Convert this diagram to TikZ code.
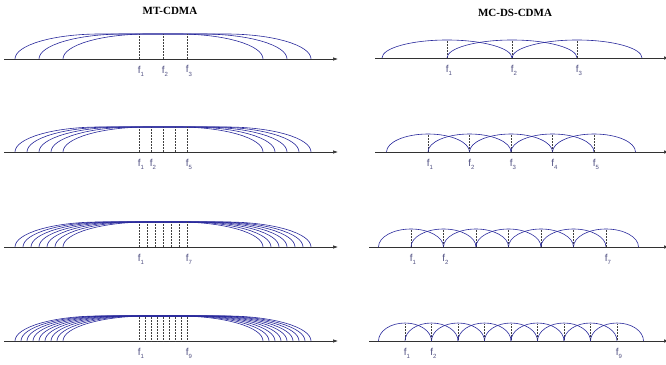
\documentclass[tikz,border=0pt]{standalone}
\usepackage{fontspec}
\setmainfont{Liberation Serif}
\setsansfont{Liberation Sans}
\usetikzlibrary{arrows.meta}
\definecolor{carrierblue}{RGB}{40, 40, 155}
\definecolor{labelgray}{RGB}{80, 80, 130}
\definecolor{axisgray}{RGB}{50, 50, 50}
\newcommand{\freq}[1]{f\raisebox{-0.6ex}{\fontsize{6}{7}\selectfont #1}}

\begin{document}
\begin{tikzpicture}[x=1pt, y=1pt,
    carrier/.style={carrierblue, line width=0.6pt},
    tickline/.style={black!75, densely dotted, line width=0.5pt},
    axisline/.style={axisgray, line width=0.6pt, -{Latex[length=5pt,width=3.5pt]}},
    flabel/.style={text=labelgray, font=\sffamily\fontsize{10}{11}\selectfont, inner sep=0pt},
    title/.style={font=\bfseries\fontsize{11}{12}\selectfont}]
  \useasboundingbox (0,0) rectangle (666,364);
  \node[title] (mttitle) at (170,353) {MT-CDMA};
  \node[title] (mctitle) at (515,351) {MC-DS-CDMA};
  % MT-CDMA: overlapping wide spectra (flat-topped)
  \foreach \n/\yy/\labs in {3/305/{1,2,3}, 5/212/{1,2,5}, 7/117/{1,7}, 9/23/{1,9}} {
    \pgfmathsetmacro{\dd}{48/(\n-1)}
    \draw[axisline] (4,\yy) -- (338,\yy);
    \foreach \k in {1,...,\n} {
      \pgfmathsetmacro{\cc}{139+(\k-1)*\dd}
      \draw[carrier] (\cc-124,\yy) arc[start angle=180, end angle=90, x radius=85, y radius=25]
        -- (\cc+39,\yy+25) arc[start angle=90, end angle=0, x radius=85, y radius=25];
      \draw[tickline] (\cc,\yy) -- (\cc,\yy+25);
    }
    \foreach \k in \labs {
      \pgfmathsetmacro{\cc}{139+(\k-1)*\dd}
      \node[flabel] (mtf\n-\k) at (\cc+2,\yy-12) {\freq{\k}};
    }
  }
  % MC-DS-CDMA: narrow spectra, one per carrier
  \foreach \n/\yy/\dd/\cs/\xs/\labs in {3/306/65/447/375/{1,2,3}, 5/212/41.5/428/375/{1,2,3,4,5},
      7/117/32.5/411/369/{1,2,7}, 9/23/26.5/405/369/{1,2,9}} {
    \draw[axisline] (\xs,\yy) -- (669,\yy);
    \foreach \k in {1,...,\n} {
      \pgfmathsetmacro{\cc}{\cs+(\k-1)*\dd}
      \draw[carrier] (\cc-\dd,\yy) arc[start angle=180, end angle=0, x radius=\dd, y radius=18];
      \draw[tickline] (\cc,\yy) -- (\cc,\yy+18);
    }
    \foreach \k in \labs {
      \pgfmathsetmacro{\cc}{\cs+(\k-1)*\dd}
      \node[flabel] (mcf\n-\k) at (\cc+2,\yy-12) {\freq{\k}};
    }
  }
\end{tikzpicture}
\end{document}
